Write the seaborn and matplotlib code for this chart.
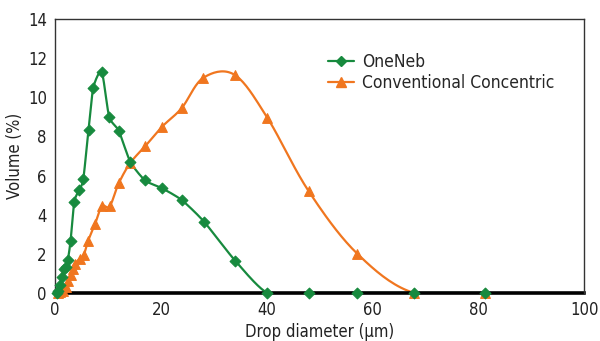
import numpy as np
import pandas as pd
import matplotlib
matplotlib.use("Agg")
import matplotlib.pyplot as plt
import seaborn as sns
from matplotlib.lines import Line2D

# drop size distributions
oneneb_x = [0.3, 0.6, 1.0, 1.3, 1.6, 2.0, 2.4, 2.9, 3.6, 4.5, 5.3, 6.3, 7.2, 8.8,
            10.2, 12.0, 14.2, 17.0, 20.2, 23.9, 28.1, 34.0, 40.1, 47.9, 57.1, 67.8, 81.3]
oneneb_y = [0.0, 0.1, 0.4, 0.8, 1.2, 1.3, 1.7, 2.65, 4.65, 5.25, 5.8, 8.35, 10.5, 11.3,
            9.0, 8.3, 6.7, 5.75, 5.35, 4.75, 3.65, 1.65, 0.0, 0.0, 0.0, 0.0, 0.0]
conc_x = [0.5, 1.0, 1.5, 2.0, 2.5, 3.0, 3.4, 3.8, 4.6, 5.4, 6.2, 7.5, 8.8, 10.3,
          12.0, 14.2, 17.0, 20.2, 23.9, 28.0, 33.9, 40.1, 47.9, 57.1, 67.8, 81.3]
conc_y = [0.0, 0.05, 0.1, 0.3, 0.6, 0.9, 1.2, 1.5, 1.75, 1.95, 2.65, 3.5, 4.43, 4.43,
          5.6, 6.65, 7.5, 8.5, 9.45, 11.0, 11.15, 8.95, 5.2, 2.0, 0.0, 0.0]
labels = ["OneNeb", "Conventional Concentric"]
xticks = [0, 20, 40, 60, 80, 100]
yticks = [0, 2, 4, 6, 8, 10, 12, 14]

GREEN = "#178a3e"
ORANGE = "#f0761f"


def smooth(xs, ys, n=20, k=6.0):
    # spreadsheet-style smoothed line: cubic Bezier through each point pair
    p = np.column_stack([xs, ys]).astype(float)
    p = np.vstack([p[0], p, p[-1]])
    t = np.linspace(0, 1, n)[:, None]
    out = []
    for i in range(1, len(p) - 2):
        p0, p1, p2, p3 = p[i - 1], p[i], p[i + 1], p[i + 2]
        c1 = p1 + (p2 - p0) / k
        c2 = p2 - (p3 - p1) / k
        seg = ((1 - t) ** 3) * p1 + 3 * ((1 - t) ** 2) * t * c1 + 3 * (1 - t) * t ** 2 * c2 + t ** 3 * p2
        out.append(seg if i == 1 else seg[1:])
    out = np.vstack(out)
    return pd.DataFrame({"x": out[:, 0], "y": out[:, 1]})


sns.set_style("white")
plt.rcParams["font.family"] = ["DejaVu Sans"]
plt.rcParams["font.stretch"] = "condensed"

fig = plt.figure(figsize=(6, 3.41), dpi=100)
ax = fig.add_axes([0.092, 0.141, 0.882, 0.803])

series = [(conc_x, conc_y, ORANGE, "^", 7, 6.0), (oneneb_x, oneneb_y, GREEN, "D", 5.5, 9.0)]
for xs, ys, col, mk, ms, k in series:
    sns.lineplot(data=smooth(xs, ys, k=k), x="x", y="y", sort=False, color=col,
                 linewidth=1.6, ax=ax, legend=False, estimator=None)
    pts = pd.DataFrame({"x": xs, "y": ys})
    sns.scatterplot(data=pts, x="x", y="y", color=col, marker=mk, s=ms ** 2,
                    edgecolor=col, linewidth=0.8, ax=ax, legend=False, zorder=3,
                    clip_on=False)

ax.set_xlim(0, 100)
ax.set_ylim(0, 14)
ax.set_xticks(xticks)
ax.set_yticks(yticks)
ax.tick_params(axis="both", direction="out", length=4, width=1, colors="#222222",
               labelsize=12, pad=2)
ax.set_xlabel("Drop diameter (µm)", fontsize=12, color="#222222", labelpad=3)
ax.set_ylabel("Volume (%)", fontsize=12, color="#222222", labelpad=3)

for s in ["top", "right", "left"]:
    ax.spines[s].set_visible(True)
    ax.spines[s].set_color("#333333")
    ax.spines[s].set_linewidth(1.0)
ax.spines["bottom"].set_color("black")
ax.spines["bottom"].set_linewidth(2.6)
ax.spines["bottom"].set_zorder(2)

handles = [Line2D([], [], color=GREEN, marker="D", markersize=5, linewidth=1.6),
           Line2D([], [], color=ORANGE, marker="^", markersize=6.5, linewidth=1.6)]
ax.legend(handles, labels, loc="upper left", bbox_to_anchor=(0.515, 0.875),
          frameon=False, fontsize=12.5, handlelength=1.5, handletextpad=0.5,
          labelspacing=0.15, borderpad=0, borderaxespad=0)

fig.savefig("out.png", dpi=100)
